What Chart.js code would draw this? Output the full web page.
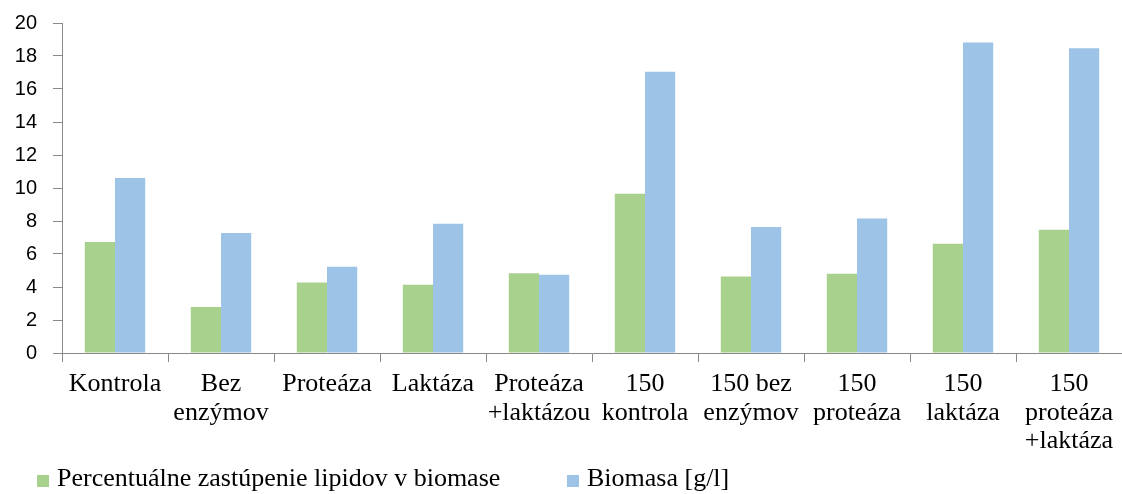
<!DOCTYPE html>
<html lang="sk">
<head>
    <meta charset="UTF-8">
    <title>Lipidy a biomasa</title>
    <script src="https://cdn.jsdelivr.net/npm/chart.js"></script>
    <style>
        html, body {
            margin: 0;
            padding: 0;
            background: #fff;
        }
        #wrap {
            position: relative;
            width: 1122px;
            height: 494px;
        }
        .legend-item {
            position: absolute;
            top: 465px;
            font-family: "Liberation Serif", "Times New Roman", serif;
            font-size: 26px;
            line-height: 26px;
            color: #000;
            white-space: nowrap;
        }
        .legend-box {
            position: absolute;
            top: 475px;
            width: 12px;
            height: 12px;
        }
    </style>
</head>
<body>
    <div id="wrap">
        <canvas id="chart"></canvas>
        <div id="legend"></div>
    </div>
    <script>
        const categories = [
            'Kontrola',
            ['Bez', 'enzýmov'],
            'Proteáza',
            'Laktáza',
            ['Proteáza', '+laktázou'],
            ['150', 'kontrola'],
            ['150 bez', 'enzýmov'],
            ['150', 'proteáza'],
            ['150', 'laktáza'],
            ['150', 'proteáza', '+laktáza']
        ];
        const lipidLabel = 'Percentuálne zastúpenie lipidov v biomase';
        const lipidValues = [6.72, 2.79, 4.27, 4.14, 4.83, 9.65, 4.64, 4.8, 6.62, 7.47];
        const biomassLabel = 'Biomasa [g/l]';
        const biomassValues = [10.6, 7.27, 5.23, 7.83, 4.75, 17.05, 7.64, 8.15, 18.82, 18.47];
        const yTicks = [0, 2, 4, 6, 8, 10, 12, 14, 16, 18, 20];

        const colors = ['#a9d18e', '#9dc3e6'];
        const axisGray = '#898989';
        const serif = '"Liberation Serif", "Times New Roman", serif';

        const chart = new Chart(document.getElementById('chart'), {
            type: 'bar',
            data: {
                labels: categories,
                datasets: [
                    {
                        label: lipidLabel,
                        data: lipidValues,
                        backgroundColor: colors[0],
                        categoryPercentage: 0.57,
                        barPercentage: 1
                    },
                    {
                        label: biomassLabel,
                        data: biomassValues,
                        backgroundColor: colors[1],
                        categoryPercentage: 0.57,
                        barPercentage: 1
                    }
                ]
            },
            options: {
                responsive: true,
                maintainAspectRatio: false,
                animation: false,
                layout: {
                    padding: { left: 0, right: 0, top: 23, bottom: 0 }
                },
                scales: {
                    x: {
                        afterFit: function(scale) { scale.height = 141; },
                        grid: {
                            offset: true,
                            drawOnChartArea: false,
                            color: axisGray,
                            tickLength: 9
                        },
                        border: { color: axisGray, width: 1 },
                        ticks: {
                            color: '#000',
                            padding: 8,
                            maxRotation: 0,
                            autoSkip: false,
                            font: { family: serif, size: 26, lineHeight: 1.1 }
                        }
                    },
                    y: {
                        min: 0,
                        max: 20,
                        afterFit: function(scale) {
                            scale.width = 62;
                            scale.paddingTop = 0;
                            scale.paddingBottom = 0;
                        },
                        afterBuildTicks: function(scale) {
                            scale.ticks = yTicks.map(v => ({ value: v }));
                        },
                        grid: {
                            drawOnChartArea: false,
                            color: axisGray,
                            tickLength: 9
                        },
                        border: { color: axisGray, width: 1 },
                        ticks: {
                            color: '#000',
                            padding: 16,
                            font: { family: '"Liberation Sans", Arial, sans-serif', size: 20 }
                        }
                    }
                },
                plugins: {
                    legend: { display: false },
                    tooltip: { enabled: false }
                }
            }
        });

        // legend under the axis labels, left-aligned like the original
        const legendX = [[37, 57], [567, 587]];
        const legendEl = document.getElementById('legend');
        chart.data.datasets.forEach((ds, i) => {
            const box = document.createElement('div');
            box.className = 'legend-box';
            box.style.left = legendX[i][0] + 'px';
            box.style.background = ds.backgroundColor;
            const txt = document.createElement('div');
            txt.className = 'legend-item';
            txt.style.left = legendX[i][1] + 'px';
            txt.textContent = ds.label;
            legendEl.appendChild(box);
            legendEl.appendChild(txt);
        });
    </script>
</body>
</html>
